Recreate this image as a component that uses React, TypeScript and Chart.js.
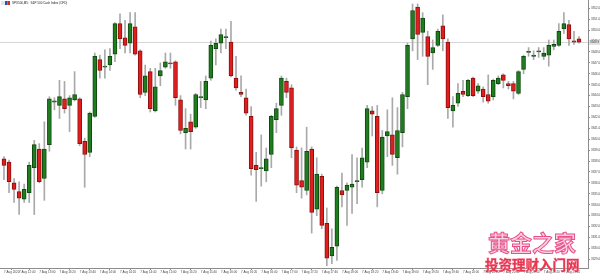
import React, { useEffect, useRef } from "react";
import { Chart, registerables } from "chart.js";
Chart.register(...registerables);

const opens = [
  3338.2, 3337.9, 3336.0, 3335.2, 3334.5, 3335.1, 3337.4, 3339.1, 3336.4, 3339.5,
  3343.4, 3343.1, 3343.7, 3343.1, 3343.6, 3343.7, 3339.8, 3338.8, 3342.1, 3347.3,
  3346.6, 3346.8, 3347.8, 3350.6, 3349.3, 3348.8, 3350.3, 3348.1, 3344.3, 3346.2,
  3342.6, 3345.8, 3346.6, 3347.0, 3347.1, 3343.6, 3340.6, 3341.6, 3341.1, 3343.8,
  3343.6, 3345.6, 3348.3, 3348.8, 3349.3, 3348.9, 3345.6, 3344.3, 3343.8, 3342.1,
  3337.6, 3337.3, 3337.1, 3338.6, 3341.8, 3343.1, 3345.3, 3344.7, 3339.0, 3336.2,
  3335.3, 3339.1, 3333.6, 3336.6, 3332.3, 3329.3, 3330.2, 3335.3, 3335.3, 3335.6,
  3336.1, 3336.3, 3337.9, 3342.6, 3342.1, 3335.3, 3340.3, 3340.4, 3338.3, 3340.6,
  3343.9, 3349.2, 3352.1, 3349.8, 3349.4, 3347.9, 3348.6, 3350.4, 3348.9, 3342.6,
  3343.3, 3344.4, 3344.0, 3345.6, 3344.4, 3344.6, 3344.1, 3343.9, 3345.1, 3345.9,
  3345.1, 3345.1, 3344.2, 3346.4, 3347.95, 3347.6, 3348.0, 3347.6, 3347.7, 3348.5,
  3348.6, 3350.1, 3350.5, 3349.0, 3349.2,
];
const highs = [
  3338.4, 3338.1, 3336.4, 3336.1, 3335.9, 3337.9, 3339.9, 3339.6, 3341.6, 3343.9,
  3343.8, 3345.4, 3345.3, 3344.0, 3346.2, 3343.8, 3340.1, 3342.5, 3347.9, 3347.7,
  3348.2, 3348.3, 3350.7, 3351.5, 3350.9, 3351.6, 3351.6, 3348.2, 3346.8, 3346.5,
  3346.5, 3347.0, 3347.9, 3347.9, 3347.2, 3344.0, 3342.8, 3342.3, 3344.2, 3345.3,
  3345.8, 3349.0, 3349.2, 3350.1, 3350.1, 3350.8, 3347.6, 3345.8, 3344.6, 3343.0,
  3338.8, 3340.4, 3339.2, 3342.2, 3343.3, 3345.8, 3345.6, 3345.0, 3339.3, 3339.2,
  3341.1, 3339.3, 3338.3, 3336.8, 3333.7, 3331.8, 3335.7, 3336.9, 3336.0, 3338.6,
  3338.3, 3339.2, 3343.1, 3343.0, 3343.1, 3340.8, 3342.7, 3343.8, 3342.9, 3344.3,
  3348.8, 3352.4, 3352.4, 3351.6, 3349.9, 3349.1, 3350.1, 3351.4, 3349.2, 3343.9,
  3345.1, 3345.4, 3345.5, 3345.7, 3345.1, 3344.8, 3345.9, 3345.5, 3345.8, 3346.0,
  3345.3, 3345.3, 3346.3, 3347.7, 3348.4, 3348.1, 3348.4, 3348.4, 3349.1, 3349.1,
  3350.6, 3351.6, 3350.9, 3349.9, 3349.4,
];
const lows = [
  3336.3, 3335.1, 3334.2, 3333.1, 3334.2, 3334.2, 3333.1, 3336.0, 3334.4, 3338.9,
  3342.7, 3341.9, 3342.4, 3340.7, 3343.5, 3339.4, 3335.6, 3338.4, 3342.0, 3345.6,
  3345.6, 3346.3, 3347.1, 3348.3, 3347.9, 3347.9, 3347.7, 3343.8, 3344.0, 3342.5,
  3342.5, 3344.9, 3346.5, 3346.5, 3343.1, 3340.5, 3339.1, 3339.1, 3341.0, 3342.9,
  3342.8, 3345.4, 3346.8, 3347.9, 3348.3, 3345.7, 3344.5, 3343.9, 3342.2, 3336.7,
  3334.3, 3335.7, 3336.1, 3337.4, 3340.6, 3342.2, 3343.8, 3338.3, 3335.1, 3334.6,
  3334.9, 3331.4, 3333.0, 3331.8, 3328.4, 3328.6, 3328.9, 3333.8, 3332.1, 3333.2,
  3334.1, 3335.6, 3337.4, 3340.3, 3333.8, 3335.0, 3338.4, 3337.6, 3336.8, 3339.3,
  3342.8, 3348.1, 3347.3, 3347.6, 3345.0, 3346.4, 3348.5, 3348.1, 3341.9, 3341.1,
  3343.0, 3343.9, 3343.9, 3343.9, 3344.2, 3343.4, 3343.3, 3343.6, 3345.0, 3344.7,
  3344.6, 3343.7, 3344.1, 3346.0, 3347.6, 3347.3, 3347.5, 3347.3, 3346.7, 3348.2,
  3348.5, 3349.7, 3348.6, 3348.7, 3348.8,
];
const closes = [
  3337.6, 3336.1, 3335.4, 3334.6, 3335.4, 3337.6, 3339.5, 3336.1, 3339.1, 3343.7,
  3343.5, 3343.9, 3342.8, 3343.8, 3344.1, 3339.6, 3338.6, 3342.4, 3347.6, 3346.3,
  3346.7, 3347.6, 3350.6, 3349.2, 3348.6, 3350.6, 3347.8, 3344.1, 3345.8, 3342.8,
  3344.8, 3346.3, 3347.1, 3346.9, 3343.8, 3340.8, 3341.0, 3340.7, 3344.1, 3343.85,
  3345.3, 3348.6, 3348.8, 3349.6, 3349.4, 3345.8, 3344.7, 3344.1, 3342.4, 3337.3,
  3337.2, 3337.4, 3338.2, 3342.1, 3342.8, 3345.6, 3344.3, 3339.2, 3335.8, 3335.6,
  3338.9, 3333.3, 3336.8, 3332.1, 3329.1, 3330.1, 3335.6, 3334.9, 3335.8, 3335.9,
  3336.2, 3338.3, 3342.8, 3342.3, 3335.1, 3340.2, 3340.7, 3338.6, 3340.8, 3344.1,
  3348.6, 3351.8, 3349.6, 3351.1, 3347.6, 3348.4, 3349.9, 3349.2, 3342.9, 3343.1,
  3344.2, 3344.1, 3345.4, 3344.0, 3344.9, 3343.9, 3343.5, 3345.4, 3345.6, 3345.4,
  3344.9, 3344.4, 3346.2, 3347.6, 3348.0, 3347.65, 3348.05, 3347.9, 3348.6, 3348.7,
  3349.9, 3350.6, 3349.2, 3348.9, 3348.9,
];

const priceTicks = [
  3352, 3351, 3350, 3349, 3348, 3347, 3346, 3345, 3344, 3343, 3342, 3341,
  3340, 3339, 3338, 3337, 3336, 3335, 3334, 3333, 3332, 3331, 3330, 3329,
];

const timeLabels = [
  "7 Aug 2020",
  "7 Aug 12:40", "7 Aug 13:00", "7 Aug 13:20", "7 Aug 13:40", "7 Aug 14:00",
  "7 Aug 14:20", "7 Aug 14:40", "7 Aug 15:00", "7 Aug 15:20", "7 Aug 15:40",
  "7 Aug 16:00", "7 Aug 16:20", "7 Aug 16:40", "7 Aug 17:00", "7 Aug 17:20",
  "7 Aug 17:40", "7 Aug 18:00", "7 Aug 18:20", "7 Aug 18:40", "7 Aug 19:00",
  "7 Aug 19:20", "7 Aug 19:40", "7 Aug 20:00", "7 Aug 20:20", "7 Aug 20:40",
  "7 Aug 21:00", "7 Aug 21:20", "7 Aug 21:40",
];

const titleText = "SPX500,M5:  S&P 500 Cash Index (CFD)";

const UP_FILL = "#1f7d1f";
const UP_EDGE = "#0f4a0f";
const DN_FILL = "#e01e1e";
const DN_EDGE = "#8a1010";
const WICK = "#a9a9a9";
const FONT = "'Liberation Sans', Arial, sans-serif";

export default function App() {
  const ref = useRef<HTMLCanvasElement | null>(null);

  useEffect(() => {
    document.body.style.margin = "0";
    const canvas = ref.current;
    if (!canvas) return;
    const idx = opens.map((_, i) => i);
    const up = idx.map((i) => closes[i] >= opens[i]);
    const tickCandles = timeLabels.map((_, k) => (k === 0 ? 0 : 3 + 4 * (k - 1)));
    const lastClose = closes[closes.length - 1];

    const overlay = {
      id: "overlay",
      beforeDatasetsDraw(chart: any) {
        const { ctx, chartArea, scales } = chart;
        const y = Math.round(scales.y.getPixelForValue(lastClose)) + 0.5;
        ctx.save();
        ctx.strokeStyle = "#d6d6d6";
        ctx.lineWidth = 1;
        ctx.beginPath();
        ctx.moveTo(chartArea.left, y);
        ctx.lineTo(chartArea.right, y);
        ctx.stroke();
        ctx.restore();
      },
      afterDraw(chart: any) {
        const { ctx, chartArea, scales } = chart;
        ctx.save();
        // current price label
        const y = Math.round(scales.y.getPixelForValue(lastClose)) + 0.5;
        ctx.fillStyle = "#e2e2e2";
        ctx.fillRect(chartArea.right + 1, y - 2.5, 600 - chartArea.right, 5);
        ctx.fillStyle = "#333";
        ctx.font = `3px ${FONT}`;
        ctx.textBaseline = "middle";
        ctx.textAlign = "left";
        ctx.fillText(lastClose.toFixed(1), chartArea.right + 2, y);
        // title
        ctx.fillStyle = "#dfe6f5";
        ctx.fillRect(1, 1, 4, 4);
        ctx.fillStyle = "#3050b0";
        ctx.fillRect(5, 1, 2.5, 4);
        ctx.fillStyle = "#d03030";
        ctx.fillRect(7.5, 1, 2.5, 4);
        ctx.fillStyle = "#222";
        ctx.font = `3px ${FONT}`;
        ctx.textBaseline = "middle";
        ctx.fillText(titleText, 12, 3);
        // watermark
        ctx.textBaseline = "alphabetic";
        ctx.font = `bold 22px 'Noto Sans CJK SC'`;
        ctx.lineWidth = 1;
        ctx.fillStyle = "rgba(248,170,200,0.55)";
        ctx.strokeStyle = "#e8508a";
        ctx.fillText("黄金之家", 488, 251);
        ctx.strokeText("黄金之家", 488, 251);
        ctx.font = `bold 13.5px 'Noto Sans CJK SC'`;
        ctx.fillStyle = "#e8364e";
        ctx.strokeStyle = "#f7a0b4";
        ctx.lineWidth = 0.8;
        ctx.strokeText("投资理财入门网", 485, 270);
        ctx.fillText("投资理财入门网", 485, 270);
        ctx.restore();
      },
    };

    const chart = new Chart(canvas, {
      type: "bar",
      data: {
        datasets: [
          {
            label: "body",
            data: idx.map((i) => ({ x: i, y: [opens[i], closes[i]] })) as any,
            backgroundColor: idx.map((i) => (up[i] ? UP_FILL : DN_FILL)),
            borderColor: idx.map((i) => (up[i] ? UP_EDGE : DN_EDGE)),
            borderWidth: 1,
            borderSkipped: false,
            barThickness: 4,
            minBarLength: 1.2,
            grouped: false,
          },
          {
            label: "wick",
            data: idx.map((i) => ({ x: i, y: [lows[i], highs[i]] })) as any,
            backgroundColor: WICK,
            borderWidth: 0,
            barThickness: 1,
            grouped: false,
          },
        ],
      },
      options: {
        responsive: false,
        animation: false,
        events: [],
        layout: { padding: 0 },
        plugins: {
          legend: { display: false },
          tooltip: { enabled: false },
          title: { display: false },
        },
        scales: {
          x: {
            type: "linear",
            min: -0.79,
            max: 115.78,
            offset: false,
            border: { display: true, color: "#8c8c8c" },
            grid: {
              display: true,
              drawOnChartArea: false,
              drawTicks: true,
              tickLength: 2,
              color: "#8c8c8c",
            },
            ticks: {
              autoSkip: false,
              maxRotation: 0,
              minRotation: 0,
              align: "start",
              padding: 0,
              color: "#444",
              font: { size: 3, family: FONT },
              callback: (_v: any, i: number) => timeLabels[i],
            },
            afterBuildTicks: (scale: any) => {
              scale.ticks = tickCandles.map((v) => ({ value: v }));
            },
            afterFit: (scale: any) => {
              scale.height = 8;
              scale.paddingLeft = 0;
              scale.paddingRight = 0;
              scale.paddingTop = 0;
              scale.paddingBottom = 0;
            },
          },
          y: {
            type: "linear",
            position: "right",
            min: 3328.2,
            max: 3352.76,
            border: { display: true, color: "#8c8c8c" },
            grid: {
              display: true,
              drawOnChartArea: false,
              drawTicks: true,
              tickLength: 2,
              color: "#8c8c8c",
            },
            ticks: {
              padding: 1,
              color: "#444",
              font: { size: 3, family: FONT },
              callback: (v: any) => Number(v).toFixed(1),
            },
            afterBuildTicks: (scale: any) => {
              scale.ticks = priceTicks.map((v) => ({ value: v }));
            },
            afterFit: (scale: any) => {
              scale.width = 12;
              scale.paddingLeft = 0;
              scale.paddingRight = 0;
              scale.paddingTop = 0;
              scale.paddingBottom = 0;
            },
          },
        },
      },
      plugins: [overlay],
    });

    return () => chart.destroy();
  }, []);

  return (
    <div style={{ position: "absolute", left: 0, top: 0, width: 600, height: 276, background: "#fff" }}>
      <canvas ref={ref} width={600} height={276} style={{ display: "block" }} />
    </div>
  );
}
